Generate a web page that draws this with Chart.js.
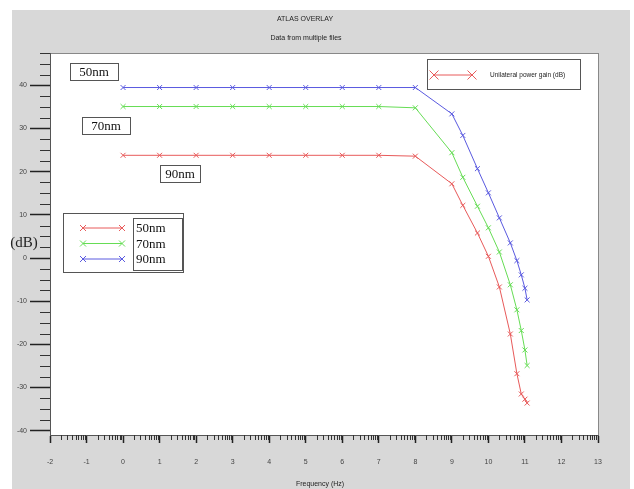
<!DOCTYPE html>
<html>
<head>
  <meta charset="utf-8">
  <title>ATLAS OVERLAY</title>
  <script src="https://cdn.jsdelivr.net/npm/chart.js"></script>
  <style>
    html, body {
      margin: 0;
      padding: 0;
      background: #fff;
    }
    #wrap {
      width: 634px;
      height: 489px;
    }
  </style>
</head>
<body>
  <div id="wrap"><canvas id="myChart"></canvas></div>

  <script>
    // frequency (log10 Hz) shared by the three curves
    const freq = [0, 1, 2, 3, 4, 5, 6, 7, 8, 9, 9.3, 9.7, 10, 10.3, 10.6, 10.78, 10.9, 11, 11.06];
    const gainRed   = [23.8, 23.8, 23.8, 23.8, 23.8, 23.8, 23.8, 23.8, 23.6, 17.2, 12.2, 5.8, 0.4, -6.7, -17.6, -26.8, -31.5, -32.7, -33.6];
    const gainGreen = [35.1, 35.1, 35.1, 35.1, 35.1, 35.1, 35.1, 35.1, 34.8, 24.4, 18.7, 12.0, 7.0, 1.4, -6.2, -12.0, -16.8, -21.3, -24.9];
    const gainBlue  = [39.5, 39.5, 39.5, 39.5, 39.5, 39.5, 39.5, 39.5, 39.5, 33.4, 28.4, 20.7, 15.1, 9.3, 3.5, -0.6, -3.9, -7.0, -9.7];
    const xTicks = [-2, -1, 0, 1, 2, 3, 4, 5, 6, 7, 8, 9, 10, 11, 12, 13];
    const yTicks = [-40, -30, -20, -10, 0, 10, 20, 30, 40];
    const legendNames = ['50nm', '70nm', '90nm'];
    const colors = ['#e85a5a', '#66dd55', '#5a5ae0'];

    const toPoints = vals => vals.map((v, i) => ({ x: freq[i], y: v }));

    function drawX(ctx, x, y, r) {
      ctx.moveTo(x - r, y - r); ctx.lineTo(x + r, y + r);
      ctx.moveTo(x - r, y + r); ctx.lineTo(x + r, y - r);
    }

    function labelBox(ctx, text, x, y, w, h) {
      ctx.fillStyle = '#fff';
      ctx.fillRect(x, y, w, h);
      ctx.strokeStyle = '#555';
      ctx.lineWidth = 1;
      ctx.strokeRect(x + 0.5, y + 0.5, w, h);
      ctx.fillStyle = '#111';
      ctx.font = '13px "Liberation Serif"';
      ctx.textAlign = 'center';
      ctx.textBaseline = 'middle';
      ctx.fillText(text, x + w / 2, y + h / 2 + 1);
    }

    const backdrop = {
      id: 'backdrop',
      beforeDraw(chart) {
        const { ctx, chartArea: a } = chart;
        ctx.save();
        ctx.fillStyle = '#fff';
        ctx.fillRect(0, 0, chart.width, chart.height);
        ctx.fillStyle = '#d8d8d8';
        ctx.fillRect(12, 10, 618, 479);
        ctx.fillStyle = '#fff';
        ctx.fillRect(a.left, a.top, a.right - a.left, a.bottom - a.top);
        ctx.strokeStyle = '#888';
        ctx.lineWidth = 1;
        ctx.strokeRect(a.left + 0.5, a.top + 0.5, a.right - a.left, a.bottom - a.top);
        ctx.restore();
      }
    };

    const extras = {
      id: 'extras',
      afterDraw(chart) {
        const { ctx, chartArea: a, scales: { x, y } } = chart;
        ctx.save();

        // minor ticks
        ctx.strokeStyle = '#333';
        ctx.lineWidth = 1;
        ctx.beginPath();
        for (let v = -40; v <= 47.5; v += 2.5) {
          if (v % 10 === 0) continue;
          const py = Math.round(y.getPixelForValue(v)) + 0.5;
          ctx.moveTo(a.left - 10, py); ctx.lineTo(a.left, py);
        }
        for (let n = -2; n < 13; n++) {
          for (let k = 2; k <= 9; k++) {
            const px = Math.round(x.getPixelForValue(n + Math.log10(k))) + 0.5;
            ctx.moveTo(px, a.bottom); ctx.lineTo(px, a.bottom + 5);
          }
        }
        ctx.stroke();

        // titles
        ctx.fillStyle = '#222';
        ctx.font = '7px "Liberation Sans"';
        ctx.textAlign = 'center';
        ctx.textBaseline = 'middle';
        ctx.fillText('ATLAS OVERLAY', 305, 19);
        ctx.fillText('Data from multiple files', 306, 38);
        ctx.fillText('Frequency (Hz)', 320, 484);
        ctx.font = '15px "Liberation Serif"';
        ctx.fillText('(dB)', 24, 243);

        // curve name boxes
        labelBox(ctx, '50nm', 70, 63, 48, 17);
        labelBox(ctx, '70nm', 82, 117, 48, 17);
        labelBox(ctx, '90nm', 160, 165, 40, 17);

        // lower-left legend
        ctx.fillStyle = '#fff';
        ctx.fillRect(63, 213, 120, 59);
        ctx.strokeStyle = '#555';
        ctx.strokeRect(63.5, 213.5, 120, 59);
        ctx.strokeRect(133.5, 218.5, 49, 52);
        legendNames.forEach((name, i) => {
          const ly = 228 + i * 15.5;
          ctx.strokeStyle = colors[i];
          ctx.beginPath();
          ctx.moveTo(83, ly); ctx.lineTo(122, ly);
          drawX(ctx, 83, ly, 3);
          drawX(ctx, 122, ly, 3);
          ctx.stroke();
          ctx.fillStyle = '#111';
          ctx.font = '13px "Liberation Serif"';
          ctx.textAlign = 'left';
          ctx.fillText(name, 136, ly + 1);
        });

        // upper-right legend
        ctx.fillStyle = '#fff';
        ctx.fillRect(427, 59, 153, 30);
        ctx.strokeStyle = '#555';
        ctx.strokeRect(427.5, 59.5, 153, 30);
        ctx.strokeStyle = colors[0];
        ctx.beginPath();
        ctx.moveTo(434, 75); ctx.lineTo(472, 75);
        drawX(ctx, 434, 75, 4.5);
        drawX(ctx, 472, 75, 4.5);
        ctx.stroke();
        ctx.fillStyle = '#222';
        ctx.font = '6.5px "Liberation Sans"';
        ctx.textAlign = 'left';
        ctx.fillText('Unilateral power gain (dB)', 490, 75);

        ctx.restore();
      }
    };

    const datasets = [gainRed, gainGreen, gainBlue].map((vals, i) => ({
      label: legendNames[i],
      data: toPoints(vals),
      borderColor: colors[i],
      backgroundColor: colors[i],
      borderWidth: 1,
      showLine: true,
      tension: 0,
      pointStyle: 'crossRot',
      pointRadius: 3.5,
      pointBorderWidth: 1
    }));

    const ctx = document.getElementById('myChart').getContext('2d');
    new Chart(ctx, {
      type: 'scatter',
      data: { datasets },
      options: {
        responsive: true,
        maintainAspectRatio: false,
        animation: false,
        layout: { padding: { left: 12, top: 53, right: 36, bottom: 0 } },
        plugins: {
          legend: { display: false },
          tooltip: { enabled: false }
        },
        scales: {
          x: {
            type: 'linear',
            min: -2,
            max: 13,
            afterBuildTicks: s => { s.ticks = xTicks.map(v => ({ value: v })); },
            afterFit: s => { s.height = 54; },
            grid: { drawOnChartArea: false, tickLength: 8, tickColor: '#222', tickWidth: 1.5 },
            border: { color: '#555' },
            ticks: {
              padding: 15,
              maxRotation: 0,
              autoSkip: false,
              color: '#444',
              font: { family: 'Liberation Sans', size: 7 }
            }
          },
          y: {
            type: 'linear',
            min: -41,
            max: 47.5,
            afterBuildTicks: s => { s.ticks = yTicks.map(v => ({ value: v })); },
            afterFit: s => { s.width = 38; },
            grid: { drawOnChartArea: false, tickLength: 20, tickColor: '#222', tickWidth: 1.5 },
            border: { color: '#555' },
            ticks: {
              padding: 3,
              autoSkip: false,
              color: '#444',
              font: { family: 'Liberation Sans', size: 7 }
            }
          }
        }
      },
      plugins: [backdrop, extras]
    });
  </script>
</body>
</html>
